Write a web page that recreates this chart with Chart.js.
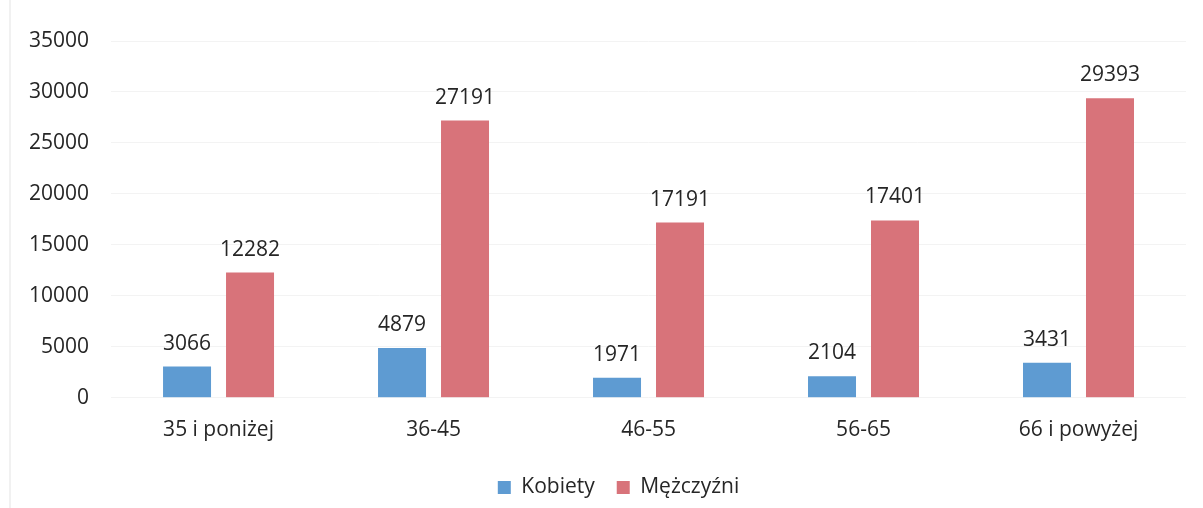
<!DOCTYPE html>
<html>
<head>
<meta charset="utf-8">
<script src="https://cdn.jsdelivr.net/npm/chart.js@4"></script>
<style>
  html, body { margin: 0; padding: 0; background: #fff; }
  #wrap { position: relative; width: 1203px; height: 508px; }
  #edge { position: absolute; left: 9px; top: 0; width: 2px; height: 508px; background: #f1f1f1; }
</style>
</head>
<body>
<div id="wrap">
  <div id="edge"></div>
  <canvas id="chart" width="1203" height="508"></canvas>
</div>
<script>
// --- DATA ---
const categories = ['35 i poniżej', '36-45', '46-55', '56-65', '66 i powyżej'];
const kobiety = [3066, 4879, 1971, 2104, 3431];
const mezczyzni = [12282, 27191, 17191, 17401, 29393];
const seriesNames = ['Kobiety', 'Mężczyźni'];

const FONT = "'Open Sans', 'Liberation Sans', sans-serif";
const TXT = '#262626';
const FS = 21;

// value labels above bars
const barLabels = {
    id: 'barLabels',
    afterLayout(chart) {
        // legend sits a bit right of center in the original
        if (chart.legend) { chart.legend.left += 22; chart.legend.right += 22; }
    },
    afterDatasetsDraw(chart) {
        const ctx = chart.ctx;
        ctx.save();
        ctx.font = `${FS}px ${FONT}`;
        ctx.fillStyle = TXT;
        ctx.textAlign = 'center';
        ctx.textBaseline = 'alphabetic';
        chart.data.datasets.forEach((ds, i) => {
            chart.getDatasetMeta(i).data.forEach((bar, j) => {
                ctx.fillText(ds.data[j], bar.x, bar.y - 17);
            });
        });
        ctx.restore();
    }
};

new Chart(document.getElementById('chart'), {
    type: 'bar',
    data: {
        labels: categories,
        datasets: [
            { label: seriesNames[0], data: kobiety, backgroundColor: '#5e9bd2' },
            { label: seriesNames[1], data: mezczyzni, backgroundColor: '#d8737a' }
        ]
    },
    options: {
        responsive: false,
        animation: false,
        devicePixelRatio: 1,
        categoryPercentage: 0.586,
        barPercentage: 0.762,
        layout: { padding: { left: 7, right: 17, top: 41, bottom: 0 } },
        scales: {
            x: {
                grid: { display: false },
                border: { display: false },
                ticks: { color: TXT, font: { family: FONT, size: FS }, padding: 12 }
            },
            y: {
                min: 0, max: 35000,
                ticks: {
                    stepSize: 5000, color: TXT, font: { family: FONT, size: FS }, padding: 22,
                    callback: v => String(v)
                },
                grid: { color: '#f3f3f3', drawTicks: false },
                border: { display: false }
            }
        },
        plugins: {
            legend: {
                position: 'bottom',
                labels: { color: TXT, font: { family: FONT, size: FS }, boxWidth: 13, boxHeight: 13, padding: 22 }
            },
            tooltip: { enabled: false }
        }
    },
    plugins: [barLabels]
});
</script>
</body>
</html>
